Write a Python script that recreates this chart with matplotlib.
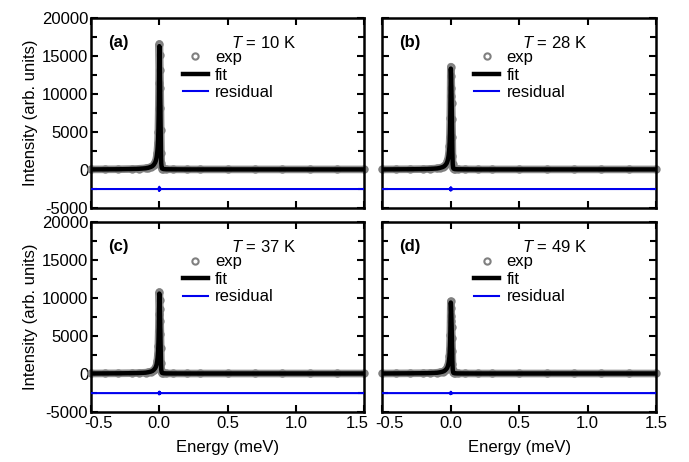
import numpy as np
import matplotlib
matplotlib.use('Agg')
import matplotlib.pyplot as plt
import matplotlib.transforms as mtransforms
from matplotlib.ticker import MultipleLocator

plt.rcParams['font.family'] = ['Liberation Sans', 'DejaVu Sans']
plt.rcParams['font.size'] = 12
plt.rcParams['axes.unicode_minus'] = False
plt.rcParams['mathtext.fontset'] = 'custom'
plt.rcParams['mathtext.it'] = 'Liberation Sans:italic'
plt.rcParams['mathtext.rm'] = 'Liberation Sans'

# energy grid of the measured spectra (meV)
energy = [-0.5, -0.4, -0.3, -0.2, -0.15, -0.1, -0.08, -0.06, -0.05, -0.04,
          -0.03, -0.025, -0.02, -0.015, -0.01, -0.007, -0.004, -0.002, 0.0,
          0.002, 0.004, 0.006, 0.008, 0.010, 0.012, 0.014, 0.017, 0.02, 0.03,
          0.05, 0.1, 0.2, 0.3, 0.5, 0.7, 0.9, 1.1, 1.3, 1.5]

exp_10K = [80, 90, 100, 130, 160, 230, 300, 420, 520, 700,
           1000, 1250, 1650, 2300, 3500, 5000, 8000, 11500, 16600,
           15100, 13200, 10800, 8200, 5300, 2300, 900, 350, 200, 130,
           100, 90, 80, 80, 80, 80, 80, 80, 80, 80]
exp_28K = [80, 90, 100, 120, 150, 210, 280, 390, 480, 640,
           900, 1130, 1480, 2050, 3100, 4400, 6900, 9700, 13600,
           12400, 10800, 8800, 6700, 4300, 1900, 750, 300, 180, 120,
           100, 90, 80, 80, 80, 80, 80, 80, 80, 80]
exp_37K = [80, 90, 100, 120, 140, 190, 250, 340, 420, 560,
           780, 960, 1250, 1720, 2600, 3700, 5700, 7900, 10800,
           9800, 8600, 7000, 5300, 3400, 1500, 600, 260, 160, 110,
           90, 85, 80, 80, 80, 80, 80, 80, 80, 80]
exp_49K = [80, 90, 100, 115, 135, 180, 235, 320, 390, 520,
           720, 880, 1140, 1570, 2350, 3300, 5100, 7000, 9600,
           8700, 7600, 6200, 4700, 3000, 1350, 550, 240, 150, 105,
           90, 85, 80, 80, 80, 80, 80, 80, 80, 80]

# exp - fit
res_10K = [0, 0, 0, 0, 0, 0, 0, 0, 0, 0,
           0, 0, 0, 0, 40, -60, 120, -250, 300,
           -200, 150, -100, 80, -50, 30, 0, 0, 0, 0,
           0, 0, 0, 0, 0, 0, 0, 0, 0, 0]
res_28K = [0, 0, 0, 0, 0, 0, 0, 0, 0, 0,
           0, 0, 0, 0, 30, -50, 100, -200, 250,
           -170, 120, -80, 60, -40, 20, 0, 0, 0, 0,
           0, 0, 0, 0, 0, 0, 0, 0, 0, 0]
res_37K = [0, 0, 0, 0, 0, 0, 0, 0, 0, 0,
           0, 0, 0, 0, 30, -40, 80, -170, 200,
           -140, 100, -70, 50, -30, 20, 0, 0, 0, 0,
           0, 0, 0, 0, 0, 0, 0, 0, 0, 0]
res_49K = [0, 0, 0, 0, 0, 0, 0, 0, 0, 0,
           0, 0, 0, 0, 20, -40, 70, -150, 180,
           -120, 90, -60, 40, -30, 15, 0, 0, 0, 0,
           0, 0, 0, 0, 0, 0, 0, 0, 0, 0]

res_offset = -2500
temps = [10, 28, 37, 49]
panel_tags = ['(a)', '(b)', '(c)', '(d)']
exp_all = [exp_10K, exp_28K, exp_37K, exp_49K]
res_all = [res_10K, res_28K, res_37K, res_49K]
xticks = [-0.5, 0.0, 0.5, 1.0, 1.5]

fig, axes = plt.subplots(2, 2, figsize=(6.89, 4.62), dpi=100)
plt.subplots_adjust(left=0.132, right=0.952, top=0.961, bottom=0.108,
                    wspace=0.066, hspace=0.074)

x = np.array(energy)
for i, ax in enumerate(axes.flat):
    y = np.array(exp_all[i])
    r = np.array(res_all[i])
    fit = y - r

    # dense measured points form a grey band under the fit
    ax.plot(x, y, color='#8c8c8c', lw=5.5, solid_capstyle='round', clip_on=False, zorder=2)
    ax.plot(x, y, 'o', mfc='none', mec='#808080', mew=1.5, ms=4.5, clip_on=False,
            zorder=2, label='exp')
    ax.plot(x, fit, color='black', lw=3.2, zorder=3, label='fit')
    ax.plot(x, r + res_offset, color='#0000ee', lw=1.5, zorder=3, label='residual')

    ax.set_xlim(-0.5, 1.5)
    ax.set_ylim(-5000, 20000)
    ax.set_xticks(xticks)
    ax.yaxis.set_major_locator(MultipleLocator(5000))
    ax.yaxis.set_minor_locator(MultipleLocator(2500))
    ax.tick_params(which='both', direction='in', top=True, right=True, width=1.5)
    ax.tick_params(which='major', length=5, pad=2)
    ax.tick_params(which='minor', length=4)
    ax.tick_params(axis='x', pad=3)
    for s in ax.spines.values():
        s.set_linewidth(1.8)

    ax.text(0.062, 0.87, panel_tags[i], transform=ax.transAxes,
            fontweight='bold', fontsize=12, va='center')
    ax.text(0.63, 0.87, r'$T$ = %d K' % temps[i], transform=ax.transAxes,
            fontsize=12, ha='center', va='center')
    ax.legend(loc='upper left', bbox_to_anchor=(0.335, 0.83), frameon=False,
              handlelength=1.5, handletextpad=0.45, labelspacing=0.15,
              borderpad=0, borderaxespad=0, fontsize=12)

    if i % 2 == 0:
        ax.set_ylabel('Intensity (arb. units)', labelpad=3)
    else:
        ax.set_yticklabels([])
    if i < 2:
        ax.set_xticklabels([])
    else:
        ax.set_xlabel('Energy (meV)', labelpad=6)


def nudge(label, dx):
    label.set_transform(label.get_transform() +
                        mtransforms.ScaledTranslation(dx, 0, fig.dpi_scale_trans))


# keep the end labels of the bottom row clear of their neighbours
nudge(axes[1, 0].xaxis.get_major_ticks()[0].label1, 0.08)
nudge(axes[1, 0].xaxis.get_major_ticks()[-1].label1, -0.07)
nudge(axes[1, 1].xaxis.get_major_ticks()[0].label1, 0.07)

fig.savefig('out.png', dpi=100)
